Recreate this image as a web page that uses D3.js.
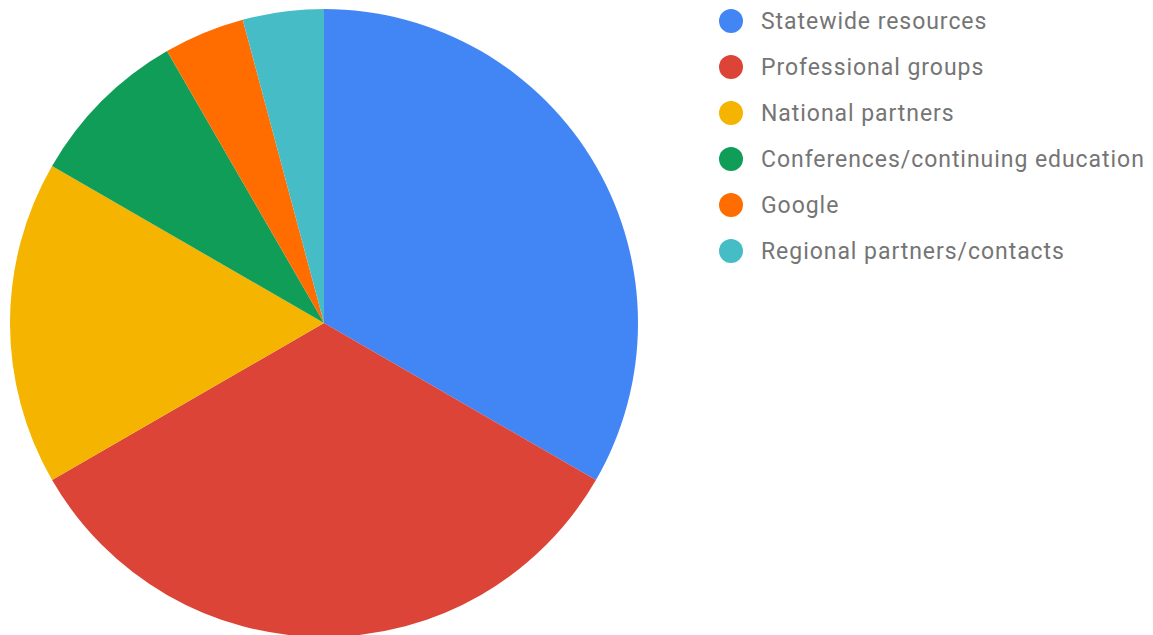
<!DOCTYPE html>
<html>
<head>
<meta charset="utf-8">
<script src="https://cdnjs.cloudflare.com/ajax/libs/d3/7.8.5/d3.min.js"></script>
<style>
  body { margin: 0; background: #fff; }
  svg { display: block; }
</style>
</head>
<body>
<div id="chart-container"></div>
<script>
// Data
const categories = ["Statewide resources", "Professional groups", "National partners",
  "Conferences/continuing education", "Google", "Regional partners/contacts"];
const values = [8, 8, 4, 2, 1, 1];
const colors = ["#4285f4", "#db4437", "#f4b400", "#0f9d58", "#ff6d00", "#46bdc6"];

const width = 1153, height = 635;
const cx = 324, cy = 323, radius = 314;

const svg = d3.select("#chart-container")
  .append("svg")
  .attr("width", width)
  .attr("height", height);

const data = categories.map((c, i) => ({ name: c, value: values[i], color: colors[i] }));

const pie = d3.pie()
  .value(d => d.value)
  .sort(null);

const arc = d3.arc()
  .innerRadius(0)
  .outerRadius(radius);

// Pie slices
svg.append("g")
  .attr("transform", `translate(${cx},${cy})`)
  .selectAll("path")
  .data(pie(data))
  .join("path")
  .attr("d", arc)
  .attr("fill", d => d.data.color);

// Legend
const legend = svg.append("g")
  .attr("transform", "translate(731,21)");

const item = legend.selectAll("g")
  .data(data)
  .join("g")
  .attr("transform", (d, i) => `translate(0,${i * 46})`);

item.append("circle")
  .attr("r", 12)
  .attr("fill", d => d.color);

item.append("text")
  .attr("x", 30)
  .attr("y", 8)
  .style("font-family", "Roboto, sans-serif")
  .style("font-size", "23px")
  .style("letter-spacing", "0.95px")
  .style("fill", "#757575")
  .text(d => d.name);
</script>
</body>
</html>
